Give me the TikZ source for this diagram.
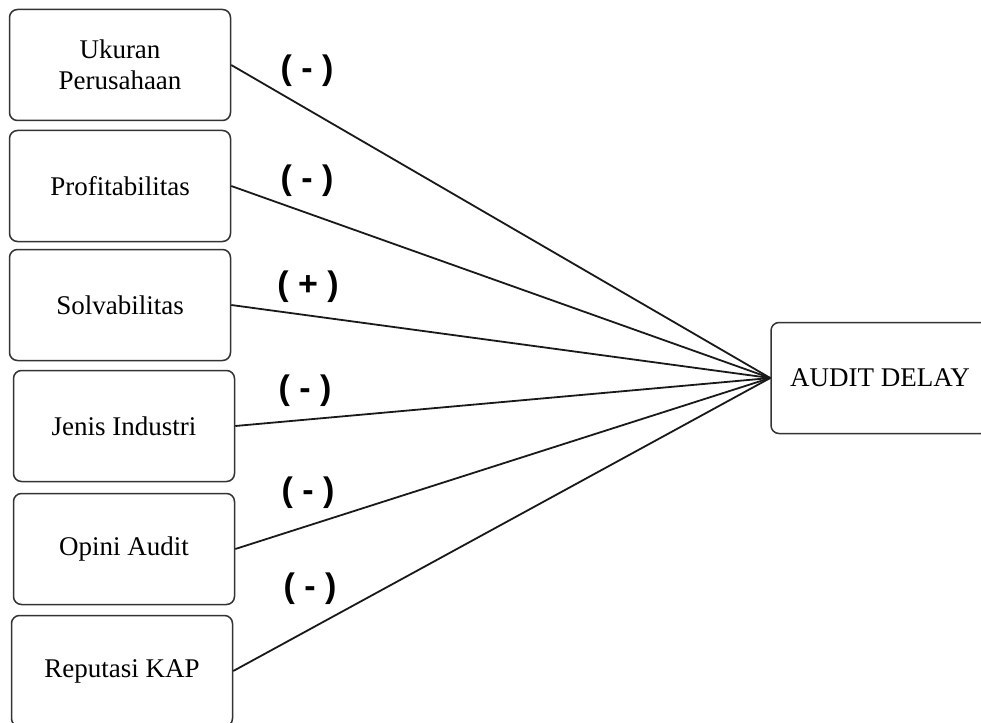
\documentclass[tikz,border=0pt]{standalone}
\usepackage{fontspec}
\setmainfont{Liberation Serif}
\newfontfamily\signfont{Liberation Sans}
\usetikzlibrary{positioning}

\begin{document}
\begin{tikzpicture}[x=1pt, y=-1pt,
                          varnode/.style={rectangle, draw=black!80, rounded corners=8pt, line width=1.5pt, minimum width=221pt, minimum height=111pt, inner sep=0pt, align=center, font=\fontsize{27}{31}\selectfont},
                          signnode/.style={inner sep=0pt, font=\signfont\bfseries\fontsize{34}{37}\selectfont},
                          link/.style={draw=black!90, line width=1.8pt},
                      ]
                      \useasboundingbox (0,0) rectangle (981,722);
                      \clip (0,0) rectangle (981,722);
                      %Nodes
                      \node[varnode]    (ukuran)    at (120,65)     {Ukuran\\Perusahaan};
                      \node[varnode]    (profit)    at (120,186)    {Profitabilitas};
                      \node[varnode]    (solva)     at (120,305)    {Solvabilitas};
                      \node[varnode]    (industri)  at (124,426)    {Jenis Industri};
                      \node[varnode]    (opini)     at (124,549)    {Opini Audit};
                      \node[varnode]    (kap)       at (122,671)    {Reputasi KAP};
                      \node[varnode, minimum width=218pt]    (delay)     at (880,378)    {AUDIT DELAY};

                      %Signs
                      \node[signnode]   (s_ukuran)    at (307,71)   {( - )};
                      \node[signnode]   (s_profit)    at (307,181)  {( - )};
                      \node[signnode]   (s_solva)     at (308,287)  {( + )};
                      \node[signnode]   (s_industri)  at (305,391)  {( - )};
                      \node[signnode]   (s_opini)     at (308,493)  {( - )};
                      \node[signnode]   (s_kap)       at (310,589)  {( - )};

                      %Lines
                      \draw[link] (ukuran.east) -- (delay.west);
                      \draw[link] (profit.east) -- (delay.west);
                      \draw[link] (solva.east) -- (delay.west);
                      \draw[link] (industri.east) -- (delay.west);
                      \draw[link] (opini.east) -- (delay.west);
                      \draw[link] (kap.east) -- (delay.west);
                  \end{tikzpicture}
\end{document}
